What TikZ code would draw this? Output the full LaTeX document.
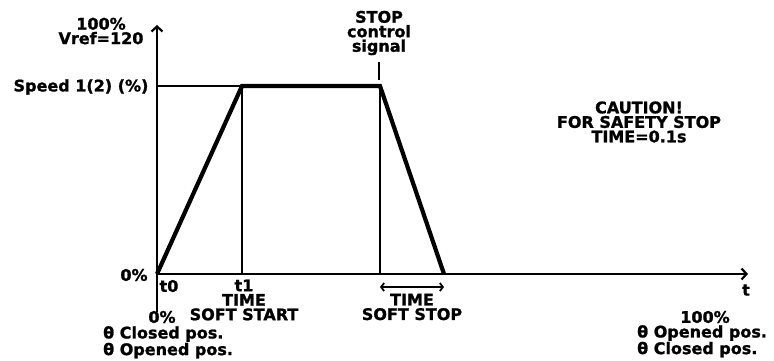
\documentclass[tikz,border=0pt]{standalone}
\usepackage{fontspec}
\setmainfont{DejaVu Sans}[BoldFeatures={FakeBold=1.2}]
\usetikzlibrary{arrows.meta}

\begin{document}
\begin{tikzpicture}[x=1pt,y=-1pt,
    lbl/.style={font=\fontsize{16}{14.5}\selectfont\bfseries, inner sep=0pt, align=center},
    axis/.style={line width=2.4pt, -{Straight Barb[length=5pt,width=11pt,line width=2.2pt]}},
    guide/.style={line width=1.8pt},
    profile/.style={line width=4.2pt, line join=miter}]
    \useasboundingbox (0,0) rectangle (774,360);
    % key points of the speed profile
    \coordinate (O)      at (157,274);
    \coordinate (ytop)   at (157,25);
    \coordinate (ybot)   at (157,312);
    \coordinate (xend)   at (748,274);
    \coordinate (yspeed) at (157,86);
    \coordinate (up)     at (242,86);
    \coordinate (down)   at (380,86);
    \coordinate (end)    at (444,274);
    \coordinate (t1)     at (242,274);
    \coordinate (tstop)  at (380,274);
    \coordinate (sigtop) at (379,62);
    \coordinate (sigbot) at (379,80);
    \coordinate (dstart) at (380,287);
    \coordinate (dend)   at (444,287);
    % axes
    \draw[axis] (ybot) -- (ytop);
    \draw[axis] (O) -- (xend);
    % guide lines
    \draw[guide] (yspeed) -- (up);
    \draw[guide] (up) -- (t1);
    \draw[guide] (down) -- (tstop);
    \draw[guide] (sigtop) -- (sigbot);
    \draw[guide, {Straight Barb[length=3pt,width=8pt,line width=1.8pt]}-{Straight Barb[length=3pt,width=8pt,line width=1.8pt]}] (dstart) -- (dend);
    % speed profile
    \draw[profile] (O) -- (up) -- (down) -- (end);
    % labels
    \node[lbl] (vref)   at (101,31)  {100\%\\Vref=120};
    \node[lbl] (speed)  at (81,87)   {Speed 1(2) (\%)};
    \node[lbl] (zero)   at (134,275) {0\%};
    \node[lbl] (t0)     at (169,286) {t0};
    \node[lbl] (t1lbl)  at (244,300) {t1\\TIME\\SOFT START};
    \node[lbl] (zerob)  at (162,317) {0\%};
    \node[lbl, align=left, anchor=north west] (posl) at (103,326) {θ Closed pos.\\θ Opened pos.};
    \node[lbl] (stop)   at (379,33)  {STOP\\control\\signal};
    \node[lbl] (stoplbl) at (412,307) {TIME\\SOFT STOP};
    \node[lbl] (caution) at (639,122) {CAUTION!\\FOR SAFETY STOP\\TIME=0.1s};
    \node[lbl] (tlbl)   at (746,290) {t};
    \node[lbl] (hundred) at (705,317) {100\%};
    \node[lbl, align=left, anchor=north west] (posr) at (637,325) {θ Opened pos.\\θ Closed pos.};
\end{tikzpicture}
\end{document}
